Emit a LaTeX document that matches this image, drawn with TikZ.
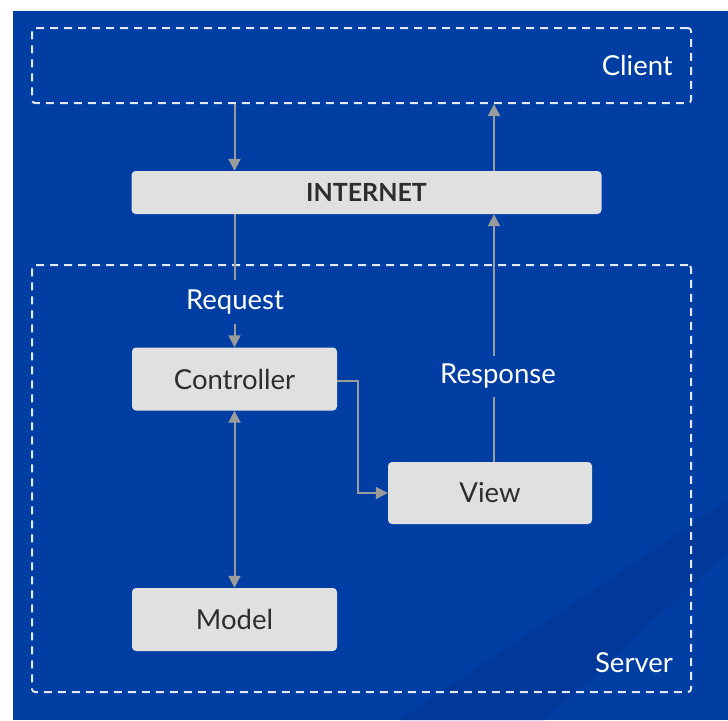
\documentclass[tikz,border=0pt]{standalone}
\usepackage{fontspec}
\setmainfont{Lato}
\usetikzlibrary{arrows.meta}
\definecolor{bgblue}{RGB}{0,62,163}
\definecolor{bandblue}{RGB}{0,57,153}
\definecolor{boxgray}{RGB}{224,224,224}
\definecolor{txtgray}{RGB}{45,45,45}
\definecolor{arrgray}{RGB}{155,155,155}
\definecolor{dashwhite}{RGB}{228,232,242}
\begin{document}
\begin{tikzpicture}[x=1pt,y=-1pt,
  box/.style={draw=none, fill=boxgray, rounded corners=4pt, text=txtgray,
    font=\fontsize{27.5}{32}\selectfont, inner sep=0pt},
  group/.style={draw=dashwhite, line width=2pt, dash pattern=on 8pt off 6pt,
    rounded corners=3pt, inner sep=0pt},
  conn/.style={draw=arrgray, line width=2pt},
  tip/.style={-{Triangle[length=12pt,width=12pt]}},
  lbl/.style={text=white, font=\fontsize{27.5}{32}\selectfont, inner sep=0pt}]
\useasboundingbox (0,0) rectangle (728,720);
\fill[white] (0,0) rectangle (728,720);
\fill[bgblue] (13,11) rectangle (728,720);
\fill[bandblue] (399,720) -- (728,500) -- (728,552) -- (545,720) -- cycle;

% groups
\node[group, minimum width=659pt, minimum height=75pt] (client) at (361.5,65.5) {};
\node[group, minimum width=659pt, minimum height=427pt] (server) at (361.5,478.5) {};
\node[lbl, anchor=east] (clientlbl) at (673,65) {Client};
\node[lbl, anchor=east] (serverlbl) at (673,663) {Server};

% boxes
\node[box, minimum width=470pt, minimum height=43pt, font=\fontsize{25}{30}\selectfont\bfseries] (inet) at (366.5,192.5) {INTERNET};
\node[box, minimum width=205pt, minimum height=63pt] (ctrl) at (234.5,379) {Controller};
\node[box, minimum width=204pt, minimum height=62pt] (view) at (490,493) {View};
\node[box, minimum width=205pt, minimum height=63pt] (model) at (234.5,619.5) {Model};

% labels on connectors
\node[lbl, minimum height=44pt] (req) at (235,302) {Request};
\node[lbl, minimum height=41pt] (resp) at (498,376.5) {Response};

\coordinate (rx) at (494,0);
\coordinate (bend) at (358,0);

% connectors
\draw[conn, tip] (client.south -| ctrl.north) -- (inet.north -| ctrl.north);
\draw[conn] (inet.south -| ctrl.north) -- (req.north -| ctrl.north);
\draw[conn, tip] (req.south -| ctrl.north) -- (ctrl.north);
\draw[conn, tip] (inet.north -| rx) -- (client.south -| rx);
\draw[conn] (view.north -| rx) -- (resp.south -| rx);
\draw[conn, tip] (resp.north -| rx) -- (inet.south -| rx);
\draw[conn, {Triangle[length=12pt,width=12pt]}-{Triangle[length=12pt,width=12pt]}] (ctrl.south) -- (model.north);
\draw[conn, tip] (ctrl.east) ++(0,2) -- (bend |- 0,381) |- (view.west);
\end{tikzpicture}
\end{document}
